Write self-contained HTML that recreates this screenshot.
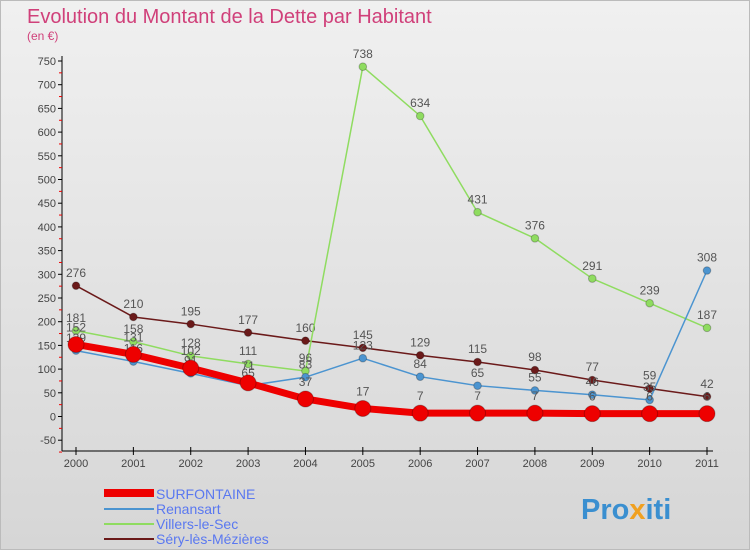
<!DOCTYPE html>
<html><head><meta charset="utf-8"><style>
body{margin:0;width:750px;height:550px;overflow:hidden;font-family:"Liberation Sans",sans-serif}
#c{position:absolute;left:0;top:0;width:748px;height:548px;border:1px solid #bbb;background:linear-gradient(#f0f0f0,#d6d6d6)}
</style></head><body>
<div id="c">
<svg width="750" height="550" id="svg">
<text x="26" y="22" font-size="20" fill="#d0407a">Evolution du Montant de la Dette par Habitant</text>
<text x="26" y="39" font-size="12" fill="#d0407a">(en €)</text>
<g id="axes"></g><g id="series"></g>
<g>
<rect x="103" y="488" width="50" height="8" fill="#e00"/>
<text x="155" y="498" font-size="14" fill="#5a78f0">SURFONTAINE</text>
<rect x="103" y="507" width="50" height="2" fill="#4b94d0"/>
<text x="155" y="513" font-size="14" fill="#5a78f0">Renansart</text>
<rect x="103" y="522" width="50" height="2" fill="#8fdc60"/>
<text x="155" y="528" font-size="14" fill="#5a78f0">Villers-le-Sec</text>
<rect x="103" y="537" width="50" height="2" fill="#6b1a1a"/>
<text x="155" y="543" font-size="14" fill="#5a78f0">Séry-lès-Mézières</text>
</g>
<text x="580" y="518" font-size="29" font-weight="bold" fill="#3a8fd0">Pro<tspan fill="#f0a020">x</tspan>iti</text>
</svg></div>
<script>
const years=[2000,2001,2002,2003,2004,2005,2006,2007,2008,2009,2010,2011];
const surfontaine=[152,131,102,71,37,17,7,7,7,6,6,6];
const renansart=[139,116,91,65,83,123,84,65,55,46,35,308];
const villers=[181,158,128,111,96,738,634,431,376,291,239,187];
const sery=[276,210,195,177,160,145,129,115,98,77,59,42];
const yTicks=[-50,0,50,100,150,200,250,300,350,400,450,500,550,600,650,700,750];
const NS="http://www.w3.org/2000/svg";
const X=i=>75+i*(706-75)/11, Y=v=>415.5-v*0.474;
function mk(t,a,p){const e=document.createElementNS(NS,t);for(const k in a)e.setAttribute(k,a[k]);p.appendChild(e);return e;}
const ax=document.getElementById('axes');
const yl=mk('line',{x1:61,y1:Y(750)-5,x2:61,y2:450,stroke:'#000'},ax);


const xl=mk('line',{x1:61,y1:450,x2:712,y2:450,stroke:'#000'},ax);


yTicks.forEach(v=>{
 mk('line',{x1:57,x2:61,y1:Y(v),y2:Y(v),stroke:'#000'},ax);
 mk('line',{x1:58,x2:61,y1:Y(v-25),y2:Y(v-25),stroke:'#e00'},ax);
 const t=mk('text',{x:55,y:Y(v)+4,'text-anchor':'end','font-size':11,fill:'#444'},ax);
 t.textContent=v;
 
 
});
years.forEach((y,i)=>{
 mk('line',{x1:X(i),x2:X(i),y1:446,y2:454,stroke:'#000'},ax);
 const t=mk('text',{x:X(i),y:466,'text-anchor':'middle','font-size':11,fill:'#444'},ax);
 t.textContent=y;
 
 
});
const sg=document.getElementById('series');
function draw(data,color,w,r,name){
 const g=mk('g',{},sg);
 
 
 const p=mk('polyline',{points:data.map((v,i)=>X(i)+','+Y(v)).join(' '),fill:'none',stroke:color,'stroke-width':w,'stroke-linejoin':'round'},g);
 
 
 data.forEach((v,i)=>{
  const c=mk('circle',{cx:X(i),cy:Y(v),r:r,fill:color,stroke:'rgba(0,0,0,0.25)','stroke-width':1},g);
  
  
  const t=mk('text',{x:X(i),y:Y(v)-r-5,'text-anchor':'middle','font-size':12,fill:'#555'},g);
  t.textContent=v;
  
  
 });
}
draw(sery,'#6b1a1a',1.5,3.8,'sery');
draw(villers,'#8fdc60',1.5,3.8,'villers');
draw(renansart,'#4b94d0',1.5,3.8,'renansart');
draw(surfontaine,'#ee0000',7,8,'surfontaine');
</script>
</body></html>
